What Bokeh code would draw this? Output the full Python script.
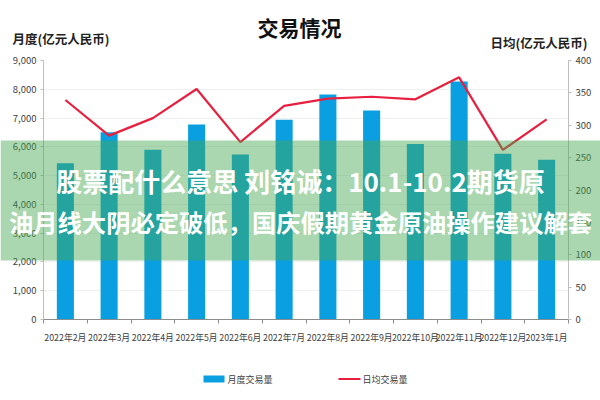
from bokeh.plotting import figure
from bokeh.models import (Range1d, LinearAxis, FixedTicker, NumeralTickFormatter,
                          BoxAnnotation, Label, ColumnDataSource)
from bokeh.layouts import column
from bokeh.embed import file_html
from bokeh.resources import INLINE

# ---- data ----
months = ["2022年2月", "2022年3月", "2022年4月", "2022年5月", "2022年6月", "2022年7月",
          "2022年8月", "2022年9月", "2022年10月", "2022年11月", "2022年12月", "2023年1月"]
monthly = [5430, 6510, 5900, 6780, 5730, 6940, 7820, 7260, 6100, 8270, 5760, 5550]
daily = [339, 284, 311, 356, 274, 330, 341, 344, 340, 374, 262, 309]
left_ticks = [0, 1000, 2000, 3000, 4000, 5000, 6000, 7000, 8000, 9000]
right_ticks = [0, 50, 100, 150, 200, 250, 300, 350, 400]

title_text = "交易情况"
left_title = "月度(亿元人民币)"
right_title = "日均(亿元人民币)"
legend_labels = ["月度交易量", "日均交易量"]
banner_lines = ["股票配什么意思 刘铭诚：10.1-10.2期货原",
                "油月线大阴必定破低，国庆假期黄金原油操作建议解套"]

BLUE = "#0a9fe0"
RED = "#e8203f"
CJK = "Noto Sans CJK SC"

idx = list(range(len(months)))

# ---------------- main chart ----------------
p = figure(width=600, height=400, output_backend="svg", toolbar_location=None,
           x_range=Range1d(-0.5, len(months) - 0.5), y_range=Range1d(0, 9000),
           min_border_left=43, min_border_right=32, min_border_top=60, min_border_bottom=81)
p.frame_align = False
p.outline_line_color = None
p.background_fill_color = "white"
p.border_fill_color = "white"
p.extra_y_ranges = {"right": Range1d(0, 400)}

src = ColumnDataSource(dict(x=idx, m=monthly, d=daily))
bars = p.vbar(x="x", top="m", width=0.39, source=src, color=BLUE, line_color=None)
line = p.line(x="x", y="d", source=src, y_range_name="right", line_color=RED, line_width=2.2)

xa = p.xaxis[0]
xa.ticker = FixedTicker(ticks=idx, minor_ticks=[i - 0.5 for i in range(len(months) + 1)])
xa.major_label_overrides = {i: m for i, m in enumerate(months)}
xa.major_tick_line_color = None
xa.major_tick_out = 0
xa.major_tick_in = 0
xa.minor_tick_out = 4
xa.minor_tick_in = 0
xa.minor_tick_line_color = "#8c8c8c"
xa.axis_line_color = "#8c8c8c"
xa.major_label_standoff = 7
xa.major_label_text_font = CJK
xa.major_label_text_font_size = "8.8px"
xa.major_label_text_color = "#404040"

ya = p.yaxis[0]
ya.ticker = FixedTicker(ticks=left_ticks)
ya.formatter = NumeralTickFormatter(format="0,0")
ya.minor_tick_line_color = None
ya.major_tick_out = 3
ya.major_tick_in = 0
ya.major_tick_line_color = "#bfbfbf"
ya.axis_line_color = "#bfbfbf"
ya.major_label_standoff = 4
ya.major_label_text_font = CJK
ya.major_label_text_font_size = "9.5px"
ya.major_label_text_color = "#404040"

ra = LinearAxis(y_range_name="right", ticker=FixedTicker(ticks=right_ticks))
ra.minor_tick_line_color = None
ra.major_tick_out = 3
ra.major_tick_in = 0
ra.major_tick_line_color = "#bfbfbf"
ra.axis_line_color = "#bfbfbf"
ra.major_label_standoff = 4
ra.major_label_text_font = CJK
ra.major_label_text_font_size = "9.5px"
ra.major_label_text_color = "#404040"
p.add_layout(ra, "right")

p.xgrid.grid_line_color = None
p.ygrid.grid_line_color = "#f0f0f0"
p.ygrid.ticker = FixedTicker(ticks=left_ticks)

# ---------------- overlay (titles, legend, banner) ----------------
ov = figure(width=600, height=400, output_backend="svg", toolbar_location=None,
            x_range=Range1d(0, 600), y_range=Range1d(400, 0),
            x_axis_type=None, y_axis_type=None, min_border=0,
            min_border_left=0, min_border_right=0, min_border_top=0, min_border_bottom=0)
ov.frame_align = False
ov.outline_line_color = None
ov.background_fill_alpha = 0
ov.border_fill_alpha = 0
ov.styles = {"position": "absolute", "top": "0px", "left": "0px"}


def lab(x, y, text, align, size, bold=False, color="#222222"):
    ov.add_layout(Label(x=x, y=y, text=text, text_align=align, text_baseline="middle",
                        text_font=CJK, text_font_style="bold" if bold else "normal",
                        text_font_size=size, text_color=color, level="overlay"))


def box(l, r, t, b, color, alpha=1.0):
    ov.add_layout(BoxAnnotation(left=l, right=r, top=t, bottom=b, fill_color=color,
                                fill_alpha=alpha, line_color=None, level="overlay"))


lab(299, 26, title_text, "center", "21px", bold=True, color="#111111")
lab(12, 38, left_title, "left", "12.5px", bold=True)
lab(587, 42, right_title, "right", "12.5px", bold=True)

box(203, 224, 375, 382, BLUE)
lab(227, 378.5, legend_labels[0], "left", "9px", color="#404040")
box(338, 360, 377.5, 379.5, RED)
lab(362, 378.5, legend_labels[1], "left", "9px", color="#404040")

box(0, 600, 140, 260, (70, 168, 81), 0.46)
lab(300, 180, banner_lines[0], "center", "26px", bold=True, color="white")
lab(300, 220.5, banner_lines[1], "center", "24.3px", bold=True, color="white")

open("out.html", "w").write(file_html(column(p, ov), INLINE))
